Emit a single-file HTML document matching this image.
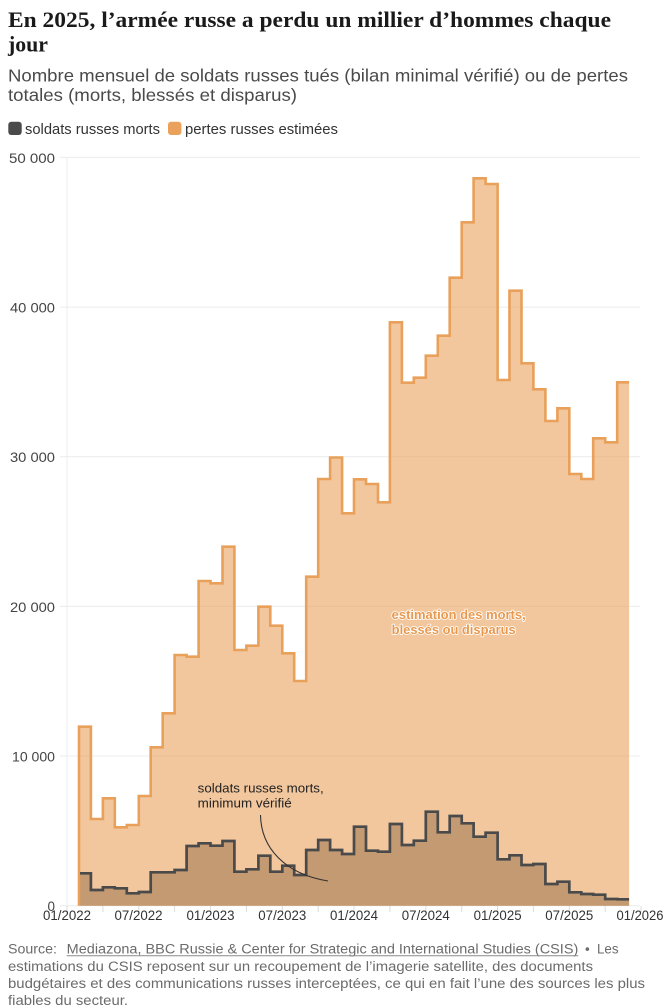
<!DOCTYPE html>
<html>
<head>
<meta charset="utf-8">
<style>
html,body{margin:0;padding:0;background:#fff;}
svg{display:block;}
.sans{font-family:"Liberation Sans", Arial, sans-serif;}
.serif{font-family:"Liberation Serif", "Times New Roman", serif;}
</style>
</head>
<body>
<svg width="667" height="1007" viewBox="0 0 667 1007" xmlns="http://www.w3.org/2000/svg">
  <rect x="0" y="0" width="667" height="1007" fill="#fff"/>

  <!-- Title -->
  <text class="serif" x="8" y="27" font-size="22.5" font-weight="bold" fill="#1a1a1a" textLength="603" lengthAdjust="spacingAndGlyphs">En 2025, l’armée russe a perdu un millier d’hommes chaque</text>
  <text class="serif" x="8" y="51.5" font-size="22.5" font-weight="bold" fill="#1a1a1a" textLength="40" lengthAdjust="spacingAndGlyphs">jour</text>

  <!-- Subtitle -->
  <text class="sans" x="8" y="81.5" font-size="17.5" fill="#4a4a4a" textLength="620" lengthAdjust="spacingAndGlyphs">Nombre mensuel de soldats russes tués (bilan minimal vérifié) ou de pertes</text>
  <text class="sans" x="8" y="101" font-size="17.5" fill="#4a4a4a" textLength="289" lengthAdjust="spacingAndGlyphs">totales (morts, blessés et disparus)</text>

  <!-- Legend -->
  <rect x="8.3" y="121.7" width="13.4" height="13.3" rx="3" fill="#4a4a4a"/>
  <text class="sans" x="25" y="134" font-size="15" fill="#333" textLength="135" lengthAdjust="spacingAndGlyphs">soldats russes morts</text>
  <rect x="168" y="121.7" width="13.4" height="13.3" rx="3" fill="#e9a15b"/>
  <text class="sans" x="185" y="134" font-size="15" fill="#333" textLength="153" lengthAdjust="spacingAndGlyphs">pertes russes estimées</text>

  <!-- Grid -->
  <g stroke="#ececec" stroke-width="1">
    <line x1="60" y1="157.4" x2="640" y2="157.4"/>
    <line x1="60" y1="307.1" x2="640" y2="307.1"/>
    <line x1="60" y1="456.7" x2="640" y2="456.7"/>
    <line x1="60" y1="606.4" x2="640" y2="606.4"/>
    <line x1="60" y1="756.0" x2="640" y2="756.0"/>
    <line x1="60" y1="905.7" x2="640" y2="905.7"/>
    <line x1="67" y1="157.4" x2="67" y2="906"/>
  </g>
  <!-- x ticks -->
  <g stroke="#dcdcdc" stroke-width="1">
    <line x1="67" y1="906" x2="67" y2="912"/>
    <line x1="102.9" y1="906" x2="102.9" y2="912"/>
    <line x1="138.8" y1="906" x2="138.8" y2="912"/>
    <line x1="174.6" y1="906" x2="174.6" y2="912"/>
    <line x1="210.5" y1="906" x2="210.5" y2="912"/>
    <line x1="246.4" y1="906" x2="246.4" y2="912"/>
    <line x1="282.3" y1="906" x2="282.3" y2="912"/>
    <line x1="318.2" y1="906" x2="318.2" y2="912"/>
    <line x1="354.0" y1="906" x2="354.0" y2="912"/>
    <line x1="389.9" y1="906" x2="389.9" y2="912"/>
    <line x1="425.8" y1="906" x2="425.8" y2="912"/>
    <line x1="461.7" y1="906" x2="461.7" y2="912"/>
    <line x1="497.6" y1="906" x2="497.6" y2="912"/>
    <line x1="533.4" y1="906" x2="533.4" y2="912"/>
    <line x1="569.3" y1="906" x2="569.3" y2="912"/>
    <line x1="605.2" y1="906" x2="605.2" y2="912"/>
    <line x1="641" y1="906" x2="641" y2="912"/>
  </g>

  <!-- Y labels -->
  <g class="sans" font-size="14" fill="#444" text-anchor="end">
    <text x="55" y="163" textLength="46" lengthAdjust="spacingAndGlyphs">50 000</text>
    <text x="55" y="312.6" textLength="45" lengthAdjust="spacingAndGlyphs">40 000</text>
    <text x="55" y="462.2" textLength="45" lengthAdjust="spacingAndGlyphs">30 000</text>
    <text x="55" y="611.9" textLength="45" lengthAdjust="spacingAndGlyphs">20 000</text>
    <text x="55" y="761.5" textLength="43" lengthAdjust="spacingAndGlyphs">10 000</text>
    <text x="55" y="911.2" textLength="7.5" lengthAdjust="spacingAndGlyphs">0</text>
  </g>

  <!-- X labels -->
  <g class="sans" font-size="13.5" fill="#333" text-anchor="middle">
    <text x="67" y="920" textLength="48" lengthAdjust="spacingAndGlyphs">01/2022</text>
    <text x="138.5" y="920" textLength="48" lengthAdjust="spacingAndGlyphs">07/2022</text>
    <text x="210.5" y="920" textLength="48" lengthAdjust="spacingAndGlyphs">01/2023</text>
    <text x="282.3" y="920" textLength="48" lengthAdjust="spacingAndGlyphs">07/2023</text>
    <text x="354" y="920" textLength="48" lengthAdjust="spacingAndGlyphs">01/2024</text>
    <text x="425.8" y="920" textLength="48" lengthAdjust="spacingAndGlyphs">07/2024</text>
    <text x="497.6" y="920" textLength="48" lengthAdjust="spacingAndGlyphs">01/2025</text>
    <text x="569.3" y="920" textLength="48" lengthAdjust="spacingAndGlyphs">07/2025</text>
    <text x="640" y="920" textLength="47" lengthAdjust="spacingAndGlyphs">01/2026</text>
  </g>

  <!-- Orange fill -->
  <path fill="#e9a15b" fill-opacity="0.6" d="M79,905.7 V726.7 H90.9 V819 H102.9 V798.3 H114.8 V827.3 H126.8 V825 H138.8 V796 H150.7 V747.3 H162.7 V713.3 H174.6 V655 H186.6 V656.7 H198.6 V581 H210.5 V583.3 H222.5 V546.7 H234.4 V650 H246.4 V645.7 H258.4 V606.7 H270.3 V625.7 H282.3 V653.3 H294.2 V681 H306.2 V576.7 H318.2 V479 H330.1 V457.5 H342.1 V513.3 H354 V479.3 H366 V484 H378 V502.3 H389.9 V322.3 H401.9 V382.7 H413.8 V377.7 H425.8 V355.7 H437.8 V335.7 H449.7 V277.7 H461.7 V222.3 H473.6 V178.3 H485.6 V184 H497.6 V380 H509.5 V290.7 H521.5 V363.3 H533.4 V389.3 H545.4 V421 H557.4 V408.3 H569.3 V474 H581.3 V479 H593.2 V438.3 H605.2 V442.3 H617.2 V382.3 H629.1 V905.7 Z"/>

  <!-- Dark fill -->
  <path fill="#c49a72" d="M80,905.7 V873.3 H90.9 V890 H102.9 V887.3 H114.8 V888.3 H126.8 V893.3 H138.8 V892 H150.7 V872.3 H162.7 V872.3 H174.6 V870 H186.6 V846 H198.6 V843.3 H210.5 V845.7 H222.5 V841 H234.4 V871.7 H246.4 V869.3 H258.4 V855.7 H270.3 V871.7 H282.3 V865.7 H294.2 V875 H306.2 V850 H318.2 V840 H330.1 V850 H342.1 V854 H354 V826.7 H366 V850.7 H378 V851.7 H389.9 V824 H401.9 V845 H413.8 V840.7 H425.8 V811.7 H437.8 V832.3 H449.7 V816 H461.7 V823.3 H473.6 V836.7 H485.6 V832.7 H497.6 V859.3 H509.5 V855.3 H521.5 V865 H533.4 V864 H545.4 V884 H557.4 V881.7 H569.3 V892.3 H581.3 V894 H593.2 V894.7 H605.2 V899 H617.2 V899.3 H629.1 V905.7 Z"/>

  <!-- Orange line -->
  <path fill="none" stroke="#e8a05a" stroke-width="2.6" stroke-linejoin="miter" d="M79,905.7 V726.7 H90.9 V819 H102.9 V798.3 H114.8 V827.3 H126.8 V825 H138.8 V796 H150.7 V747.3 H162.7 V713.3 H174.6 V655 H186.6 V656.7 H198.6 V581 H210.5 V583.3 H222.5 V546.7 H234.4 V650 H246.4 V645.7 H258.4 V606.7 H270.3 V625.7 H282.3 V653.3 H294.2 V681 H306.2 V576.7 H318.2 V479 H330.1 V457.5 H342.1 V513.3 H354 V479.3 H366 V484 H378 V502.3 H389.9 V322.3 H401.9 V382.7 H413.8 V377.7 H425.8 V355.7 H437.8 V335.7 H449.7 V277.7 H461.7 V222.3 H473.6 V178.3 H485.6 V184 H497.6 V380 H509.5 V290.7 H521.5 V363.3 H533.4 V389.3 H545.4 V421 H557.4 V408.3 H569.3 V474 H581.3 V479 H593.2 V438.3 H605.2 V442.3 H617.2 V382.3 H629.1"/>

  <!-- Dark line -->
  <path fill="none" stroke="#4a4a4a" stroke-width="2.7" stroke-linejoin="miter" d="M80,873.3 H90.9 V890 H102.9 V887.3 H114.8 V888.3 H126.8 V893.3 H138.8 V892 H150.7 V872.3 H162.7 V872.3 H174.6 V870 H186.6 V846 H198.6 V843.3 H210.5 V845.7 H222.5 V841 H234.4 V871.7 H246.4 V869.3 H258.4 V855.7 H270.3 V871.7 H282.3 V865.7 H294.2 V875 H306.2 V850 H318.2 V840 H330.1 V850 H342.1 V854 H354 V826.7 H366 V850.7 H378 V851.7 H389.9 V824 H401.9 V845 H413.8 V840.7 H425.8 V811.7 H437.8 V832.3 H449.7 V816 H461.7 V823.3 H473.6 V836.7 H485.6 V832.7 H497.6 V859.3 H509.5 V855.3 H521.5 V865 H533.4 V864 H545.4 V884 H557.4 V881.7 H569.3 V892.3 H581.3 V894 H593.2 V894.7 H605.2 V899 H617.2 V899.3 H629.1"/>

  <!-- Annotation: orange -->
  <g class="sans" font-size="12.5" font-weight="bold" fill="#e8994f" stroke="#fff" stroke-width="1.6" paint-order="stroke" stroke-linejoin="round">
    <text x="391.7" y="619" textLength="134" lengthAdjust="spacingAndGlyphs">estimation des morts,</text>
    <text x="391.7" y="634" textLength="124" lengthAdjust="spacingAndGlyphs">blessés ou disparus</text>
  </g>

  <!-- Annotation: dark -->
  <g class="sans" font-size="12.5" fill="#222">
    <text x="197.7" y="792.3" textLength="126" lengthAdjust="spacingAndGlyphs">soldats russes morts,</text>
    <text x="197.7" y="807.7" textLength="94" lengthAdjust="spacingAndGlyphs">minimum vérifié</text>
  </g>
  <path d="M260.5,815 C261,848 285,874 328,881" fill="none" stroke="#333" stroke-width="1.1"/>

  <!-- Footer -->
  <g class="sans" font-size="13.5" fill="#6b6b6b">
    <text x="8" y="953.3" textLength="49" lengthAdjust="spacingAndGlyphs">Source:</text>
    <text x="66.7" y="953.3" textLength="511.6" lengthAdjust="spacingAndGlyphs">Mediazona, BBC Russie &amp; Center for Strategic and International Studies (CSIS)</text>
    <text x="585" y="953.3">•</text>
    <text x="597" y="953.3" textLength="21.5" lengthAdjust="spacingAndGlyphs">Les</text>
    <text x="8" y="971" textLength="585" lengthAdjust="spacingAndGlyphs">estimations du CSIS reposent sur un recoupement de l’imagerie satellite, des documents</text>
    <text x="8" y="988" textLength="637" lengthAdjust="spacingAndGlyphs">budgétaires et des communications russes interceptées, ce qui en fait l’une des sources les plus</text>
    <text x="8" y="1005" textLength="120" lengthAdjust="spacingAndGlyphs">fiables du secteur.</text>
  </g>
  <line x1="66.7" y1="955.8" x2="578.3" y2="955.8" stroke="#8a8a8a" stroke-width="1"/>
</svg>
</body>
</html>
